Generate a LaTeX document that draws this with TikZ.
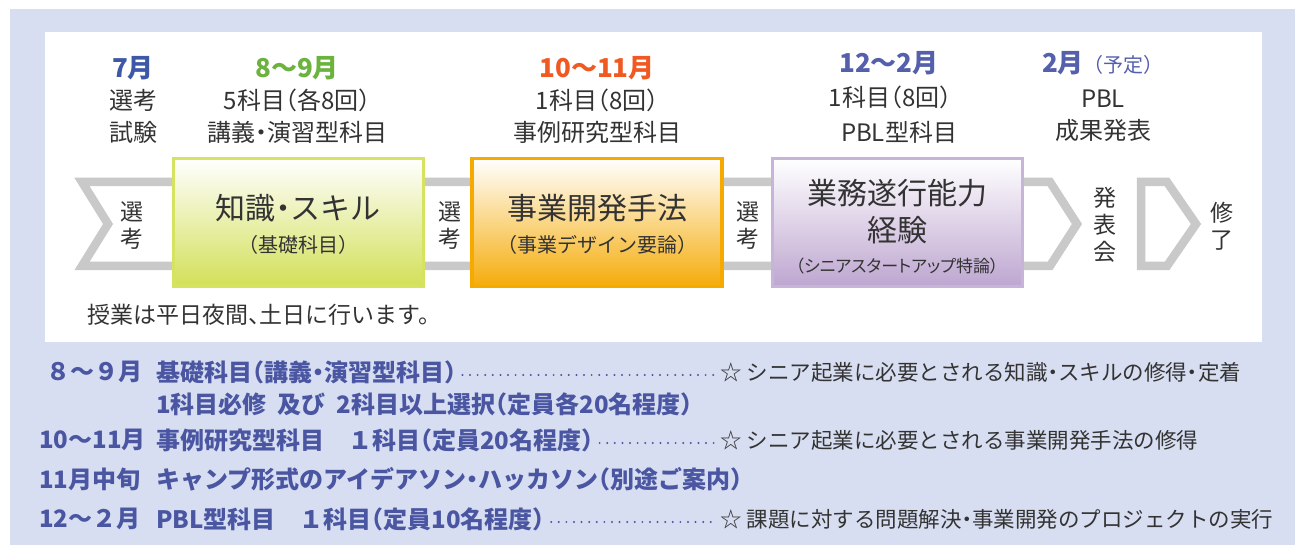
\documentclass[tikz,border=0pt]{standalone}
\usepackage{fontspec}
\setmainfont{Noto Sans CJK JP}[RawFeature=+halt]
\definecolor{lavender}{RGB}{216,222,241}
\definecolor{bandgray}{RGB}{201,201,201}
\definecolor{txtdark}{RGB}{51,51,51}
\definecolor{mblue}{RGB}{62,88,168}
\definecolor{mgreen}{RGB}{108,178,62}
\definecolor{morange}{RGB}{240,90,34}
\definecolor{mpurple}{RGB}{84,96,172}
\definecolor{lblue}{RGB}{74,86,162}
\definecolor{grnedge}{RGB}{214,227,96}
\definecolor{grnfill}{RGB}{210,224,88}
\definecolor{orgedge}{RGB}{246,170,0}
\definecolor{orgfill}{RGB}{245,172,10}
\definecolor{purpedge}{RGB}{198,180,217}
\definecolor{purpfill}{RGB}{190,166,208}
\begin{document}
\begin{tikzpicture}[x=1pt,y=-1pt,
	monthtext/.style={inner sep=0pt,font=\fontsize{26}{30}\selectfont\bfseries},
	plantext/.style={inner sep=0pt,font=\fontsize{24}{32}\selectfont,text=txtdark,align=center},
	coursebox/.style={minimum width=250pt,minimum height=128pt,line width=3.5pt},
	boxtitle/.style={inner sep=0pt,font=\fontsize{30}{37}\selectfont,text=txtdark,align=center},
	boxsub/.style={inner sep=0pt,font=\fontsize{20}{22}\selectfont,text=txtdark},
	vertlabel/.style={inner sep=0pt,font=\fontsize{23}{27}\selectfont,text=txtdark,align=center},
	rowtext/.style={anchor=west,inner sep=0pt,font=\fontsize{24}{26}\selectfont\bfseries,text=lblue},
	goaltext/.style={anchor=west,inner sep=0pt,font=\fontsize{21.5}{24}\selectfont,text=txtdark},
	dotleader/.style={lblue,line width=2.2pt,line cap=round,dash pattern=on 0pt off 7.6pt,shorten <=6pt,shorten >=6pt}]
	\useasboundingbox (0,0) rectangle (1295,545);
	\fill[white] (0,0) rectangle (1295,545);
	\fill[lavender] (10,9) rectangle (1295,545);
	\fill[white] (45,32) rectangle (1262,342);
	% band with chevrons
	\draw[bandgray,line width=8.5pt] (82,182) -- (1050,182) -- (1077,224) -- (1050,266) -- (82,266) -- (108,224) -- cycle;
	\draw[bandgray,line width=8.5pt] (1141,182) -- (1167,182) -- (1196,224) -- (1167,266) -- (1141,266) -- cycle;
	% courses
	\node[coursebox,draw=grnedge,top color=white,bottom color=grnfill] (know) at (298.5,222.5) {};
	\node[coursebox,draw=orgedge,top color=white,bottom color=orgfill] (biz) at (597,222.5) {};
	\node[coursebox,draw=purpedge,top color=white,bottom color=purpfill] (work) at (897.5,222.5) {};
	\node[boxtitle] (knowT) at (298,208) {知識・スキル};
	\node[boxsub] (knowS) at (298,245) {（基礎科目）};
	\node[boxtitle] (bizT) at (597,208) {事業開発手法};
	\node[boxsub] (bizS) at (597,245) {（事業デザイン要論）};
	\node[boxtitle] (workT) at (897,212) {業務遂行能力\\経験};
	\node[boxsub,font=\fontsize{17}{19}\selectfont\addfontfeature{RawFeature=+palt}] (workS) at (897,266) {（シニアスタートアップ特論）};
	\foreach \x/\n in {132/a,450/b,748/c}
		\node[vertlabel] (sel\n) at (\x,226) {選\\考};
	\node[vertlabel] (pres) at (1105,225) {発\\表\\会};
	\node[vertlabel] (done) at (1222,226) {修\\了};
	% schedule heads
	\node[monthtext,text=mblue] (m1) at (133,68) {7月};
	\node[plantext] (p1) at (133,116) {選考\\試験};
	\node[monthtext,text=mgreen] (m2) at (297,68) {8〜9月};
	\node[plantext] (p2) at (297,116) {5科目（各8回）\\講義・演習型科目};
	\node[monthtext,text=morange] (m3) at (597,68) {10〜11月};
	\node[plantext] (p3) at (597,116) {1科目（8回）\\事例研究型科目};
	\node[monthtext,text=mpurple] (m4) at (889,63) {12〜2月};
	\node[plantext,font=\fontsize{24}{35}\selectfont] (p4) at (890,114.5) {1科目（8回）\\\hspace{18pt}PBL型科目};
	\node[monthtext,text=mpurple] (m5) at (1103,63) {2月{\mdseries\fontsize{20}{22}\selectfont\addfontfeature{RawFeature=-halt}（予定）}};
	\node[plantext] (p5) at (1103,116) {PBL\\成果発表};
	\node[goaltext,font=\fontsize{23}{26}\selectfont] (note) at (87,315) {授業は平日夜間、土日に行います。};
	% list of courses
	\node[rowtext] (r1m) at (46,372) {８〜９月};
	\node[rowtext] (r1c) at (156,372) {基礎科目（講義・演習型科目）};
	\node[goaltext] (r1g) at (720,372) {☆ シニア起業に必要とされる知識・スキルの修得・定着};
	\draw[dotleader] ([yshift=-3pt]r1c.east) -- ([yshift=-3pt]r1g.west |- r1c.east);
	\node[rowtext] (r2c) at (156,404) {1科目必修\ \ 及び\ \ 2科目以上選択（定員各20名程度）};
	\node[rowtext] (r3m) at (39,440) {10〜11月};
	\node[rowtext] (r3c) at (156,440) {事例研究型科目　１科目（定員20名程度）};
	\node[goaltext] (r3g) at (720,440) {☆ シニア起業に必要とされる事業開発手法の修得};
	\draw[dotleader] ([yshift=-3pt]r3c.east) -- ([yshift=-3pt]r3g.west |- r3c.east);
	\node[rowtext] (r4m) at (39,479) {11月中旬};
	\node[rowtext] (r4c) at (156,479) {キャンプ形式のアイデアソン・ハッカソン（別途ご案内）};
	\node[rowtext] (r5m) at (39,519) {12〜２月};
	\node[rowtext] (r5c) at (156,519) {PBL型科目　１科目（定員10名程度）};
	\node[goaltext] (r5g) at (720,519) {☆ 課題に対する問題解決・事業開発のプロジェクトの実行};
	\draw[dotleader] ([yshift=-3pt]r5c.east) -- ([yshift=-3pt]r5g.west |- r5c.east);
\end{tikzpicture}
\end{document}
